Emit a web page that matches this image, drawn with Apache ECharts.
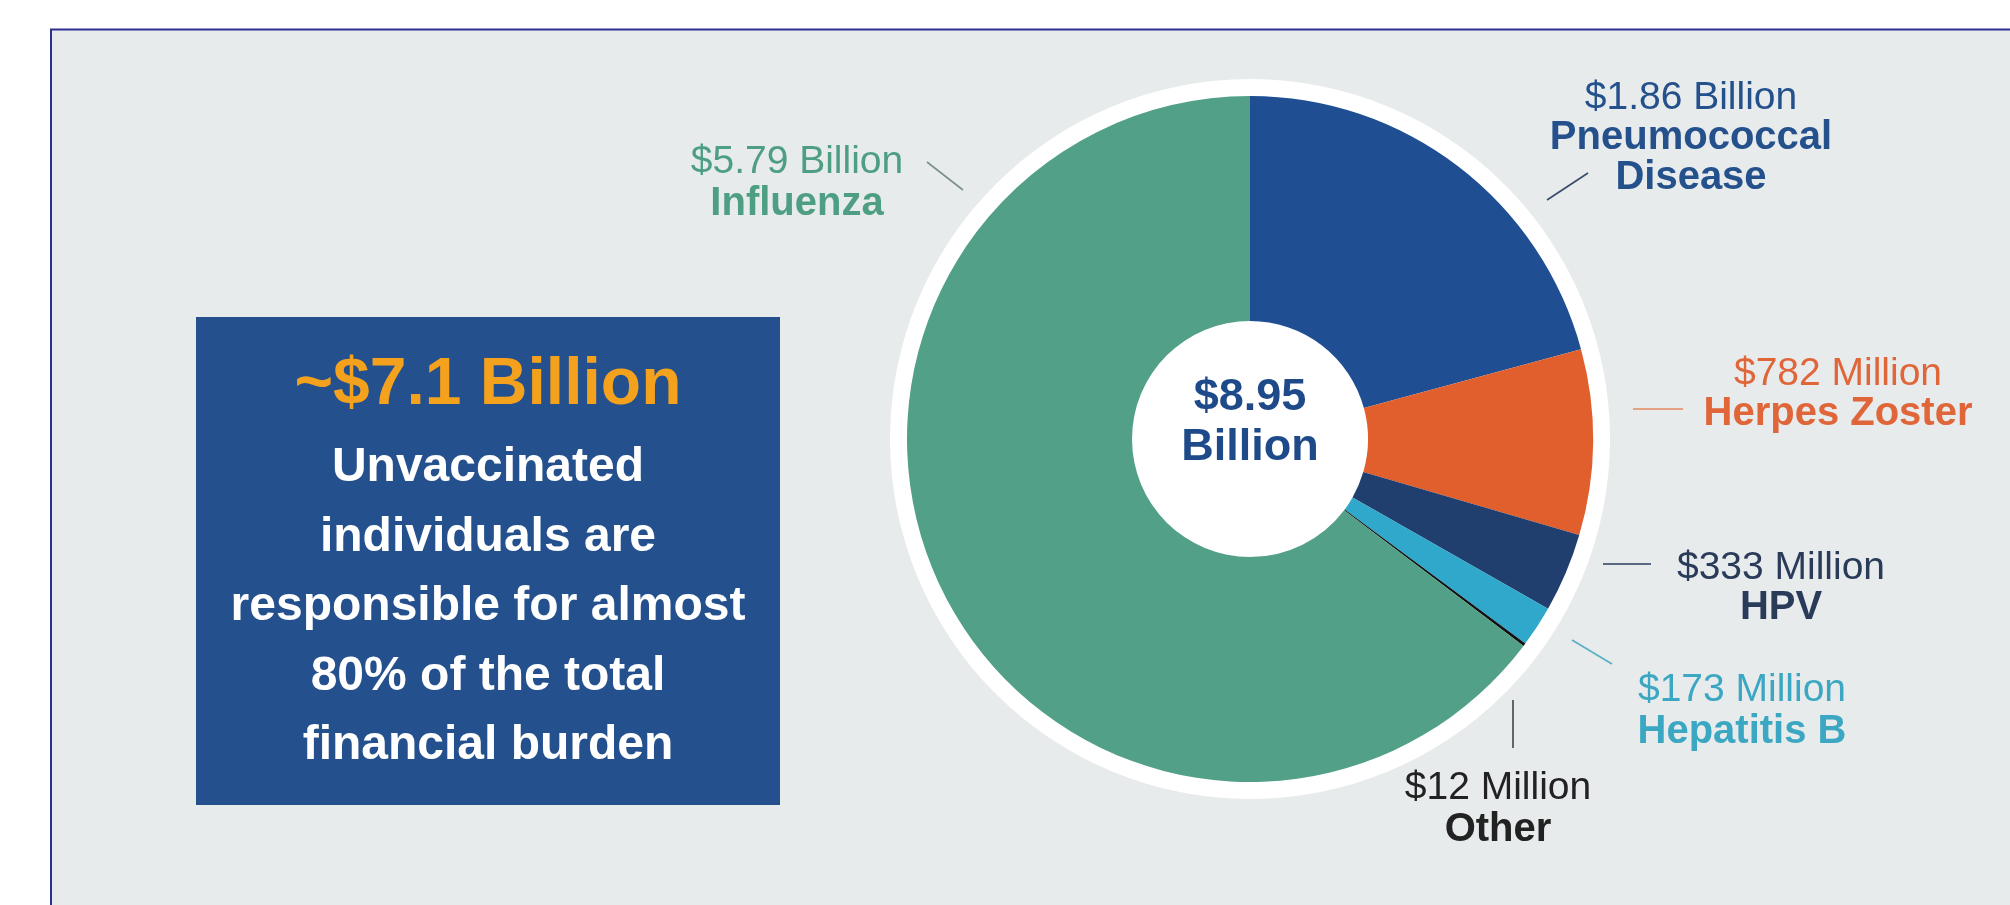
<!DOCTYPE html>
<html>
<head>
<meta charset="utf-8">
<script src="https://cdn.jsdelivr.net/npm/echarts@6/dist/echarts.min.js"></script>
<style>
html,body{margin:0;padding:0;background:#ffffff;}
#chart{width:2010px;height:905px;}
</style>
</head>
<body>
<div id="chart"></div>
<script>
// ---- data (values in millions of USD), clockwise from 12 o'clock ----
const categories = ["Pneumococcal\nDisease", "Herpes Zoster", "HPV", "Hepatitis B", "Other", "Influenza"];
const values = [1860, 782, 333, 173, 12, 5790];
const calloutTitle = "~$7.1 Billion";
const calloutLines = ["Unvaccinated", "individuals are", "responsible for almost", "80% of the total", "financial burden"];

// ---- styles ----
const sliceColors = ["#1F4E93", "#E05F2D", "#213F6E", "#2FA8CB", "#111111", "#52A088"];
const textColors  = ["#24508C", "#E0663A", "#2A3B5A", "#3BA7C2", "#222222", "#4E9E84"];
const lineColors  = ["#3A4A6A", "#E58A60", "#2C3E5C", "#5AAFC5", "#444444", "#7D8F8B"];
// label block centres, line heights and leader segments (layout only)
const labelLayoutCfg = [
  {x: 1691, y: 138, lh: 40, line: [[1547, 200], [1588, 173]]},
  {x: 1838, y: 394, lh: 40, line: [[1633, 409], [1683, 409]]},
  {x: 1781, y: 588, lh: 40, line: [[1603, 564], [1651, 564]]},
  {x: 1742, y: 711, lh: 41, line: [[1572, 640], [1612, 664]]},
  {x: 1498, y: 809, lh: 41, line: [[1513, 700], [1513, 748]]},
  {x: 797,  y: 183, lh: 42, line: [[927, 162], [963, 190]]}
];

const FONT = "'Liberation Sans', Arial, Helvetica, sans-serif";
function money(v) {
  return v >= 1000 ? "$" + (v / 1000).toFixed(2) + " Billion" : "$" + v + " Million";
}
const total = values.reduce((a, b) => a + b, 0);

const pieData = categories.map((name, i) => ({
  name: name,
  value: values[i],
  itemStyle: {color: sliceColors[i]},
  label: {
    rich: {
      v: {fontFamily: FONT, fontSize: 39, fontWeight: 'normal', color: textColors[i], lineHeight: labelLayoutCfg[i].lh, align: 'center'},
      n: {fontFamily: FONT, fontSize: 40, fontWeight: 'bold', color: textColors[i], lineHeight: labelLayoutCfg[i].lh, align: 'center'}
    }
  },
  labelLine: {lineStyle: {color: lineColors[i], width: 1.6}}
}));

const chart = echarts.init(document.getElementById('chart'), null, {renderer: 'canvas'});

const cx = 1250, cy = 439;

chart.setOption({
  backgroundColor: '#ffffff',
  animation: false,
  graphic: [
    {type: 'rect', z: -10, silent: true,
      shape: {x: 51, y: 29.5, width: 2100, height: 1000},
      style: {fill: '#E7EBEC', stroke: '#2E2F94', lineWidth: 2}},
    {type: 'rect', z: 1, silent: true,
      shape: {x: 196, y: 317, width: 584, height: 488},
      style: {fill: '#24508D'}},
    {type: 'text', z: 2, silent: true, x: 488, y: 386,
      style: {text: calloutTitle, fill: '#F4A11D', font: "bold 66px " + FONT,
        textAlign: 'center', textVerticalAlign: 'middle'}},
    {type: 'text', z: 2, silent: true, x: 488, y: 607,
      style: {text: calloutLines.join('\n'), fill: '#ffffff', font: "bold 48px " + FONT,
        lineHeight: 69.5, textAlign: 'center', textVerticalAlign: 'middle'}},
    {type: 'text', z: 20, silent: true, x: cx, y: 423,
      style: {text: "$" + (total / 1000).toFixed(2) + "\nBillion", fill: '#1F4A8A',
        font: "bold 45px " + FONT, lineHeight: 50, textAlign: 'center', textVerticalAlign: 'middle'}}
  ],
  series: [
    {
      type: 'pie', silent: true, z: 1,
      center: [cx, cy], radius: [0, 360],
      label: {show: false}, labelLine: {show: false},
      data: [{value: 1, itemStyle: {color: '#ffffff'}}]
    },
    {
      type: 'pie', z: 2,
      center: [cx, cy], radius: [118, 343],
      startAngle: 90, clockwise: true,
      avoidLabelOverlap: false,
      itemStyle: {borderWidth: 0},
      label: {
        show: true, position: 'outside',
        formatter: p => '{v|' + money(p.value) + '}\n{n|' + p.name + '}'
      },
      labelLine: {show: true, length: 10, length2: 10, smooth: false},
      labelLayout: function (params) {
        const c = labelLayoutCfg[params.dataIndex];
        const a = c.line[0], b = c.line[1];
        return {
          x: c.x, y: c.y, align: 'center', verticalAlign: 'middle',
          labelLinePoints: [a, [(a[0] + b[0]) / 2, (a[1] + b[1]) / 2], b]
        };
      },
      emphasis: {disabled: true},
      data: pieData
    }
  ]
});
</script>
</body>
</html>
